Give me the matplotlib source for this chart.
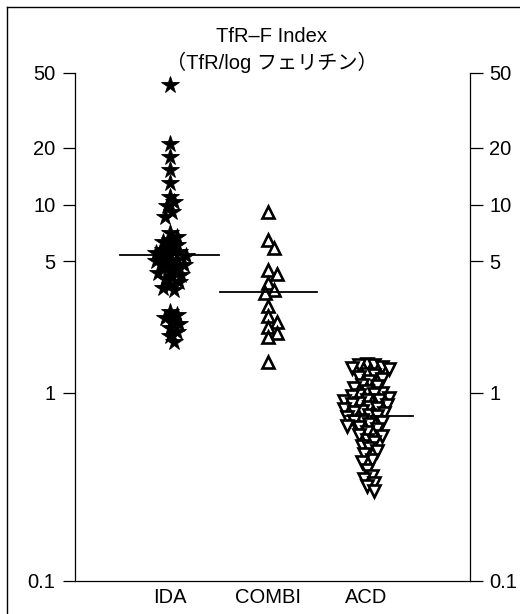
import numpy as np
import matplotlib
matplotlib.use('Agg')
import matplotlib.pyplot as plt
from matplotlib.lines import Line2D

plt.rcParams['font.family'] = ['Liberation Sans', 'Noto Sans CJK JP', 'DejaVu Sans']

groups = ['IDA', 'COMBI', 'ACD']

ida = [43.0, 21.0, 18.0, 15.3, 13.0, 11.0, 10.3, 9.8, 9.1, 8.6,
       7.1, 6.7, 6.5, 6.3, 6.1, 5.9, 5.75, 5.6, 5.5, 5.4, 5.3, 5.2,
       5.1, 5.0, 4.9, 4.8, 4.7, 4.6, 4.45, 4.35, 4.25, 4.1, 4.0, 3.9,
       3.75, 3.6, 3.5, 2.7, 2.6, 2.5, 2.4, 2.32, 2.2, 2.1, 2.0, 1.86]

combi = [9.1, 6.5, 5.86, 4.49, 4.3, 3.83, 3.52, 3.37, 2.9, 2.56,
         2.38, 2.23, 2.07, 1.98, 1.46]

acd = [1.43, 1.41, 1.40, 1.37, 1.35, 1.33, 1.26, 1.24, 1.22, 1.18,
       1.15, 1.10, 1.08, 1.06, 1.02, 1.00, 0.99, 0.97, 0.96, 0.94,
       0.92, 0.91, 0.90, 0.88, 0.87, 0.86, 0.84, 0.83, 0.82, 0.80,
       0.79, 0.78, 0.76, 0.75, 0.74, 0.72, 0.71, 0.70, 0.68, 0.67,
       0.66, 0.64, 0.62, 0.60, 0.59, 0.56, 0.55, 0.52, 0.51, 0.49,
       0.47, 0.44, 0.43, 0.39, 0.36, 0.35, 0.33, 0.32, 0.30]

centre_lines = [5.4, 3.43, 0.753]

yticks = [0.1, 1, 5, 10, 20, 50]
ytick_labels = ['0.1', '1', '5', '10', '20', '50']

W, H = 520, 614
fig = plt.figure(figsize=(W / 100, H / 100), dpi=100)
ax = fig.add_axes([75 / W, 33 / H, 395 / W, 508 / H])
ax.set_yscale('log')
ax.set_ylim(0.1, 50)
ax.set_xlim(0.04, 4.05)


def swarm(values, pos, d):
    # simple beeswarm in pixel space, returns x positions in data units
    tr = ax.transData
    px_per_unit = tr.transform((pos + 1, 1))[0] - tr.transform((pos, 1))[0]
    placed = []
    xs = []
    step = d / 3.0
    for v in values:
        ypx = tr.transform((pos, v))[1]
        k = 0
        while True:
            n = (k + 1) // 2 * (1 if k % 2 else -1)
            xo = n * step
            ok = all((xo - px) ** 2 + (ypx - py) ** 2 >= d * d for px, py in placed)
            if ok:
                break
            k += 1
        placed.append((xo, ypx))
        xs.append(pos + xo / px_per_unit)
    return xs


fig.canvas.draw()

ax.plot(swarm(ida, 1, 7), ida, linestyle='none', marker='*', ms=13,
        color='black', mec='black', mew=0.6)
ax.plot(swarm(combi, 2, 9), combi, linestyle='none', marker='^', ms=8.5,
        mfc='white', mec='black', mew=1.9)
ax.plot(swarm(acd, 3, 7.5), acd, linestyle='none', marker='v', ms=9,
        mfc='white', mec='black', mew=1.9)

line_span = [(-0.5, 0.5), (-0.49, 0.5), (-0.22, 0.47)]
for i, (m, (a, b)) in enumerate(zip(centre_lines, line_span)):
    ax.plot([i + 1 + a, i + 1 + b], [m, m], color='black', lw=1.3)

ax.spines['top'].set_visible(False)
for s in ['left', 'right', 'bottom']:
    ax.spines[s].set_linewidth(0.9)

ax.set_yticks(yticks)
ax.set_yticklabels(ytick_labels)
ax.yaxis.set_minor_locator(matplotlib.ticker.NullLocator())
ax.yaxis.set_ticks_position('both')
ax.tick_params(axis='y', which='major', direction='out', length=9, width=0.9,
               labelsize=14.5, labelright=True, pad=5)
ax.set_xticks([1, 2, 3])
ax.set_xticklabels(groups)
ax.tick_params(axis='x', length=0, labelsize=14.5, pad=5)

fig.text(272 / W, 1 - 37 / H, 'TfR\u2013F Index', ha='center', va='center', fontsize=14.5)
fig.text(272 / W, 1 - 62 / H, '（TfR/log フェリチン）', ha='center', va='center', fontsize=14.5)

# outer frame
fx, fy = 7 / W, 1 - 7 / H
fig.add_artist(Line2D([fx, fx], [0, fy], color='black', lw=1.0))
fig.add_artist(Line2D([fx, 1], [fy, fy], color='black', lw=1.0))

fig.savefig('out.png', dpi=100)
